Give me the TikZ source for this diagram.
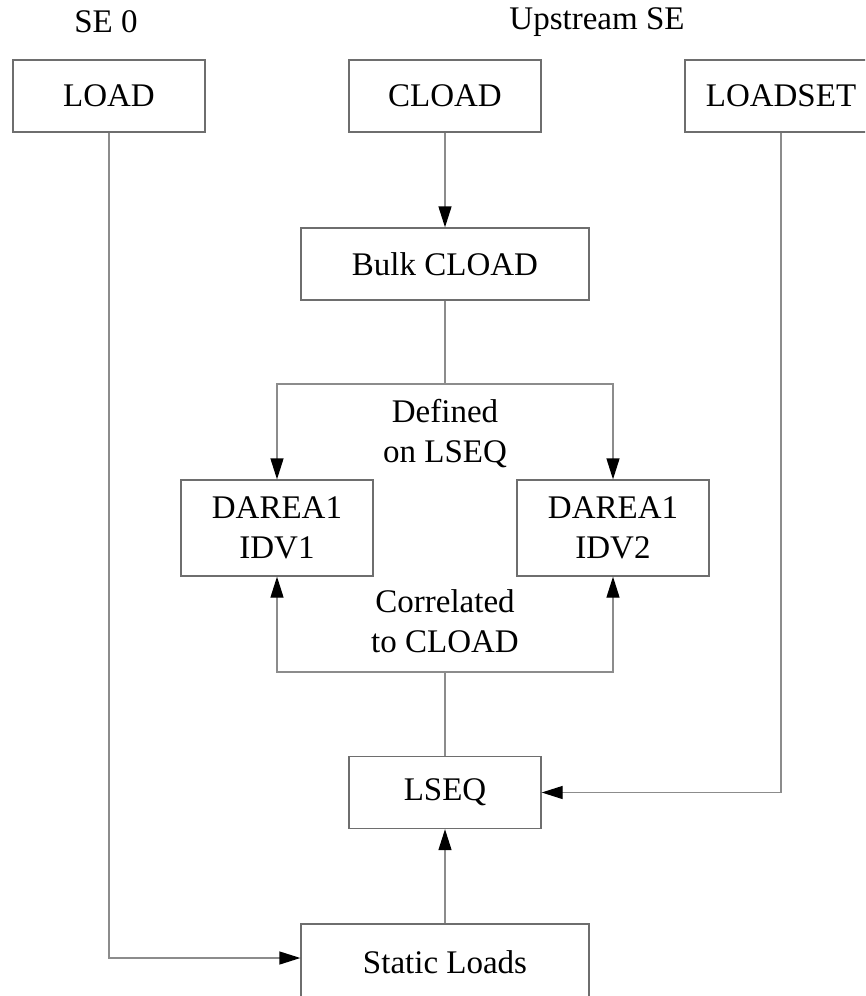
\documentclass[tikz,border=0pt]{standalone}
\usepackage{fontspec}
\setmainfont{Liberation Serif}
\usetikzlibrary{arrows.meta}
\definecolor{boxgray}{RGB}{110,110,110}
\definecolor{linegray}{RGB}{140,140,140}
\newcommand\dfont{\fontsize{33}{40}\selectfont}
\begin{document}
\begin{tikzpicture}[x=1pt,y=-1pt,
  box/.style={draw=boxgray, line width=1.3pt, minimum width=192pt, minimum height=72pt, inner sep=0pt, align=center, font=\dfont},
  lbl/.style={inner sep=0pt, align=center, font=\dfont},
  conn/.style={draw=linegray, line width=1.3pt},
  arr/.style={conn, -{Triangle[length=21pt,width=13pt,color=black]}}
]
\useasboundingbox (0,0) rectangle (865,996);
\clip (0,0) rectangle (865,996);
\node[lbl] (se0) at (106,22) {SE 0};
\node[lbl] (up) at (597,22) {Upstream SE};
\node[box] (load) at (109,96) {LOAD};
\node[box] (cload) at (445,96) {CLOAD};
\node[box] (loadset) at (781,96) {LOADSET};
\node[box, minimum width=288pt] (bulk) at (445,264) {Bulk CLOAD};
\node[box, minimum height=96pt] (d1) at (277,528) {DAREA1\\IDV1};
\node[box, minimum height=96pt] (d2) at (613,528) {DAREA1\\IDV2};
\node[box] (lseq) at (445,792.5) {LSEQ};
\node[box, minimum width=288pt, minimum height=76pt] (static) at (445,962) {Static Loads};
\node[lbl] (defined) at (445,434) {Defined\\on LSEQ};
\node[lbl] (corr) at (445,621) {Correlated\\to CLOAD};
\coordinate (split) at (445,384);
\coordinate (join) at (445,672);
\draw[arr] (load.south) |- ([yshift=4pt]static.west);
\draw[arr] (cload.south) -- (bulk.north);
\draw[conn] (bulk.south) -- (split);
\draw[arr] (split) -| (d1.north);
\draw[arr] (split) -| (d2.north);
\draw[conn] (lseq.north) -- (join);
\draw[arr] (join) -| (d1.south);
\draw[arr] (join) -| (d2.south);
\draw[arr] (loadset.south) |- (lseq.east);
\draw[arr] (static.north) -- (lseq.south);
\end{tikzpicture}
\end{document}
